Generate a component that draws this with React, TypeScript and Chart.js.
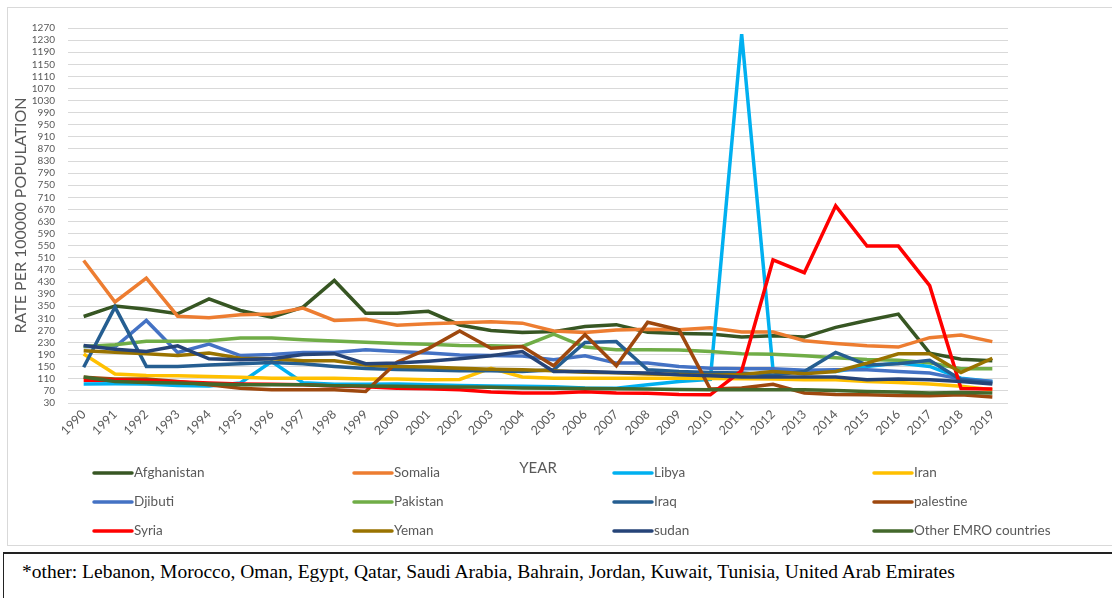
import { useEffect, useRef } from "react";
import { Chart, registerables } from "chart.js";

Chart.register(...registerables);

const years = [
  "1990", "1991", "1992", "1993", "1994", "1995", "1996", "1997", "1998", "1999",
  "2000", "2001", "2002", "2003", "2004", "2005", "2006", "2007", "2008", "2009",
  "2010", "2011", "2012", "2013", "2014", "2015", "2016", "2017", "2018", "2019",
];

const afghanistan = [316, 351, 340, 325, 374, 336, 314, 347, 435, 327, 327, 333, 288, 270, 263, 266, 283, 289, 264, 260, 258, 248, 252, 248, 280, 303, 324, 195, 175, 170];
const somalia = [501, 364, 443, 317, 312, 322, 324, 344, 303, 307, 287, 292, 295, 299, 294, 268, 263, 271, 274, 272, 279, 265, 265, 236, 227, 219, 215, 246, 255, 233];
const libya = [93, 94, 93, 88, 86, 96, 167, 97, 92, 92, 93, 90, 88, 86, 85, 84, 80, 79, 90, 101, 108, 1250, 140, 137, 134, 151, 162, 151, 112, 101];
const iran = [192, 126, 121, 120, 118, 115, 112, 112, 112, 109, 109, 107, 108, 145, 116, 112, 112, 112, 112, 112, 111, 110, 109, 107, 107, 101, 98, 93, 85, 74];
const djibuti = [217, 215, 303, 197, 225, 187, 190, 197, 197, 206, 200, 195, 189, 187, 185, 173, 186, 162, 162, 151, 145, 143, 143, 138, 140, 140, 134, 129, 109, 101];
const pakistan = [217, 223, 234, 234, 236, 245, 245, 239, 235, 231, 227, 224, 220, 219, 217, 258, 215, 206, 206, 205, 200, 193, 191, 186, 180, 174, 171, 163, 143, 143];
const iraq = [148, 347, 151, 151, 156, 160, 164, 160, 151, 144, 141, 139, 137, 137, 134, 140, 230, 233, 140, 134, 131, 129, 123, 134, 197, 156, 160, 171, 107, 96];
const palestine = [115, 109, 109, 101, 90, 79, 74, 74, 74, 68, 165, 210, 268, 211, 217, 153, 256, 153, 297, 272, 76, 80, 92, 63, 58, 57, 55, 54, 57, 50];
const syria = [105, 106, 104, 100, 96, 93, 92, 90, 86, 84, 79, 77, 74, 66, 63, 63, 67, 63, 62, 58, 57, 137, 503, 461, 682, 549, 549, 418, 78, 76];
const yemen = [203, 198, 193, 187, 195, 178, 176, 170, 170, 156, 151, 149, 145, 142, 140, 137, 132, 130, 126, 124, 122, 124, 134, 127, 134, 162, 193, 193, 131, 178];
const sudan = [220, 208, 200, 219, 176, 173, 176, 190, 193, 160, 162, 168, 176, 186, 200, 134, 134, 131, 129, 123, 120, 116, 116, 116, 116, 107, 109, 107, 101, 93];
const otherEmro = [116, 101, 98, 96, 93, 90, 90, 90, 87, 86, 85, 84, 83, 82, 80, 79, 78, 77, 76, 75, 74, 74, 74, 74, 71, 68, 66, 63, 65, 63];

const seriesNames = ["Afghanistan", "Somalia", "Libya", "Iran", "Djibuti", "Pakistan", "Iraq", "palestine", "Syria", "Yeman", "sudan", "Other EMRO countries"];
const seriesValues = [afghanistan, somalia, libya, iran, djibuti, pakistan, iraq, palestine, syria, yemen, sudan, otherEmro];
const seriesColors = ["#375623", "#ED7D31", "#00B0F0", "#FFC000", "#4472C4", "#70AD47", "#255E91", "#9E480E", "#FF0000", "#997300", "#264478", "#43682B"];

const yTitle = "RATE PER 100000 POPULATION";
const xTitle = "YEAR";
const footnote = "*other: Lebanon, Morocco, Oman, Egypt, Qatar, Saudi Arabia, Bahrain, Jordan, Kuwait, Tunisia, United Arab Emirates";

const FONT = "Lato, 'Liberation Sans', sans-serif";
const TEXT = "#595959";

const gridLegend = {
  id: "gridLegend",
  afterDraw(chart: any) {
    const ctx = chart.ctx;
    ctx.save();
    ctx.font = `13.5px ${FONT}`;
    ctx.textBaseline = "middle";
    ctx.textAlign = "left";
    chart.data.datasets.forEach((ds: any, i: number) => {
      const col = i % 4;
      const row = Math.floor(i / 4);
      const x = 93 + col * 260;
      const y = 473 + row * 29;
      ctx.strokeStyle = ds.borderColor;
      ctx.lineWidth = 3.5;
      ctx.lineCap = "round";
      ctx.beginPath();
      ctx.moveTo(x + 1, y);
      ctx.lineTo(x + 39, y);
      ctx.stroke();
      ctx.fillStyle = TEXT;
      ctx.fillText(ds.label, x + 41, y);
    });
    ctx.restore();
  },
};

export default function App() {
  const ref = useRef<HTMLCanvasElement | null>(null);

  useEffect(() => {
    if (!ref.current) return;
    const n = seriesNames.length;
    const chart = new Chart(ref.current, {
      type: "line",
      data: {
        labels: years,
        datasets: seriesNames.map((name, i) => ({
          label: name,
          data: seriesValues[i],
          borderColor: seriesColors[i],
          backgroundColor: seriesColors[i],
          borderWidth: 3.5,
          pointRadius: 0,
          tension: 0,
          fill: false,
          order: n - i,
        })),
      },
      options: {
        responsive: false,
        animation: false,
        layout: { padding: { left: 0, top: 28, right: 104, bottom: 68 } },
        plugins: {
          legend: { display: false },
          tooltip: { enabled: false },
        },
        scales: {
          x: {
            type: "category",
            offset: true,
            grid: { display: false, drawTicks: false },
            border: { display: false },
            ticks: {
              autoSkip: false,
              minRotation: 45,
              maxRotation: 45,
              padding: 4,
              color: TEXT,
              font: { family: FONT, size: 12.5 },
            },
            title: {
              display: true,
              text: xTitle,
              color: TEXT,
              padding: 0,
              font: { family: FONT, size: 15 },
            },
            afterFit: (s: any) => {
              s.height = 74;
            },
          },
          y: {
            min: 30,
            max: 1270,
            grid: { color: "#d9d9d9", lineWidth: 1, drawTicks: false },
            border: { display: false },
            ticks: {
              stepSize: 40,
              autoSkip: false,
              padding: 13,
              color: TEXT,
              font: { family: FONT, size: 10, lineHeight: 1 },
              callback: (v: any) => String(v),
            },
            title: {
              display: true,
              text: yTitle,
              color: TEXT,
              padding: { top: 11, bottom: 0 },
              font: { family: FONT, size: 16 },
            },
            afterFit: (s: any) => {
              s.width = 68;
            },
          },
        },
      },
      plugins: [gridLegend],
    });
    return () => chart.destroy();
  }, []);

  return (
    <div style={{ position: "absolute", left: 0, top: 0, width: 1112, height: 598, overflow: "hidden", background: "#fff" }}>
      <div style={{ position: "absolute", left: 7, top: 7, width: 1200, height: 537, border: "1px solid #d9d9d9" }} />
      <canvas ref={ref} width={1112} height={545} style={{ position: "absolute", left: 0, top: 0 }} />
      <div style={{ position: "absolute", left: 3, top: 552, width: 1200, height: 100, borderTop: "2px solid #222", borderLeft: "1px solid #222" }} />
      <div style={{ position: "absolute", left: 22, top: 560, fontFamily: "'Liberation Serif', 'Times New Roman', serif", fontSize: 19.5, lineHeight: "24px", color: "#000", whiteSpace: "nowrap" }}>
        {footnote}
      </div>
    </div>
  );
}
